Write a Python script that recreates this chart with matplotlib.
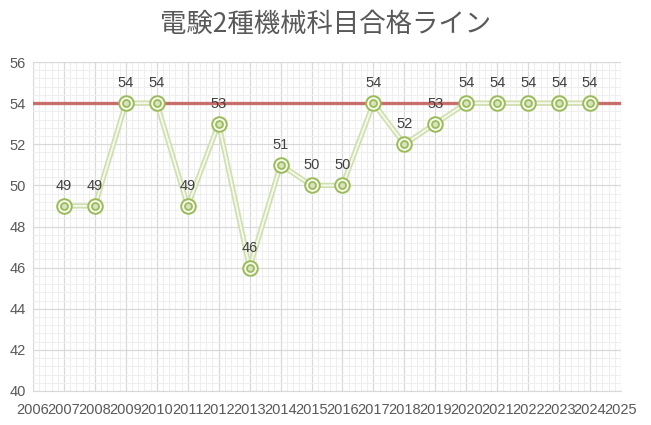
import matplotlib
matplotlib.use('Agg')
import matplotlib.pyplot as plt
from matplotlib.ticker import MultipleLocator, AutoMinorLocator

# data
years = [2007, 2008, 2009, 2010, 2011, 2012, 2013, 2014, 2015,
         2016, 2017, 2018, 2019, 2020, 2021, 2022, 2023, 2024]
pass_line = [49, 49, 54, 54, 49, 53, 46, 51, 50,
             50, 54, 52, 53, 54, 54, 54, 54, 54]
target = 54
title = '電験2種機械科目合格ライン'

plt.rcParams['font.family'] = ['Liberation Sans', 'DejaVu Sans']

fig = plt.figure(figsize=(6.51, 4.25), dpi=100)
ax = fig.add_axes([33 / 651, 1 - 391 / 425, (621 - 33) / 651, (391 - 62) / 425])

ax.set_xlim(2006, 2025)
ax.set_ylim(40, 56)
ax.xaxis.set_major_locator(MultipleLocator(1))
ax.yaxis.set_major_locator(MultipleLocator(2))
ax.xaxis.set_minor_locator(AutoMinorLocator(5))
ax.yaxis.set_minor_locator(AutoMinorLocator(5))

ax.grid(which='minor', color='#efefef', linewidth=0.8, zorder=0)
ax.grid(which='major', color='#d9d9d9', linewidth=0.9, zorder=0)
ax.set_axisbelow(True)

for side in ['top', 'right', 'left']:
    ax.spines[side].set_visible(False)
ax.spines['bottom'].set_color('#d9d9d9')

ax.tick_params(which='both', length=0)
ax.tick_params(axis='both', labelsize=10.5, labelcolor='#595959')
ax.tick_params(axis='y', pad=5)
ax.tick_params(axis='x', pad=9)

# reference line at 54
ax.axhline(target, color='#c0504d', alpha=0.8, linewidth=2.4, zorder=2)

# double (compound) line
ax.plot(years, pass_line, color='#cfdfae', linewidth=3.8, zorder=3)
ax.plot(years, pass_line, color='#f5f8ee', linewidth=1.4, zorder=3)

# double-ring markers
ax.plot(years, pass_line, linestyle='none', marker='o', markersize=10.5,
        markerfacecolor='#f7faf1', markeredgecolor='#9bbb59', markeredgewidth=1.4, zorder=4)
ax.plot(years, pass_line, linestyle='none', marker='o', markersize=5,
        markerfacecolor='#d7e4bd', markeredgecolor='#9bbb59', markeredgewidth=1.3, zorder=5)

for x, y in zip(years, pass_line):
    ax.annotate(str(y), (x, y), xytext=(0, 15.5), textcoords='offset points',
                ha='center', va='center_baseline', fontsize=10.5, color='#404040', zorder=6)

fig.text(0.5, 1 - 24 / 425, title, ha='center', va='center', fontsize=19,
         color='#595959', family=['Noto Sans CJK JP', 'DejaVu Sans'])

fig.savefig('out.png', dpi=100)
